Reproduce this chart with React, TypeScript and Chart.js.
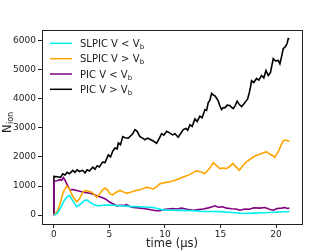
import React, { useEffect, useRef } from "react";
import { Chart, registerables } from "chart.js";

Chart.register(...registerables);

// ---- Data (time in µs, N_ion) ----
const slpicBelowT = [0, 0.3, 0.6, 0.9, 1.15, 1.4, 1.7, 2.05, 2.4, 2.8, 3.05, 3.25, 3.6, 4.0, 4.4, 4.75, 5.3, 5.95, 6.8, 7.75, 8.5, 8.95, 9.4, 9.8, 10.5, 11.5, 12.55, 13.3, 14.05, 15.0, 16.0, 17.05, 18.0, 18.8, 19.45, 20.3, 21.2];
const slpicBelowN = [0, 60, 250, 480, 620, 670, 500, 290, 380, 520, 500, 440, 360, 320, 340, 350, 340, 320, 300, 290, 270, 260, 220, 180, 170, 165, 150, 130, 125, 120, 90, 55, 70, 80, 90, 110, 125];

const slpicAboveT = [0, 0.3, 0.6, 0.85, 1.15, 1.4, 1.7, 2.05, 2.3, 2.6, 2.8, 3.1, 3.4, 3.65, 3.85, 4.1, 4.4, 4.6, 4.85, 5.05, 5.3, 5.6, 5.95, 6.25, 6.55, 6.9, 7.3, 7.75, 8.05, 8.35, 8.65, 8.95, 9.25, 9.55, 9.9, 10.3, 10.75, 11.2, 11.65, 11.95, 12.25, 12.55, 12.85, 13.25, 13.6, 14.0, 14.35, 14.65, 14.95, 15.25, 15.55, 15.85, 16.1, 16.4, 16.7, 17.0, 17.35, 17.7, 18.1, 18.6, 19.15, 19.45, 19.7, 19.9, 20.2, 20.45, 20.65, 20.9, 21.2];
const slpicAboveN = [0, 120, 450, 800, 1000, 900, 640, 460, 560, 780, 850, 820, 790, 700, 610, 720, 880, 930, 850, 730, 700, 780, 850, 800, 750, 790, 840, 870, 920, 960, 930, 900, 980, 1080, 1110, 1140, 1170, 1240, 1310, 1350, 1400, 1470, 1520, 1480, 1430, 1600, 1800, 1700, 1600, 1620, 1600, 1680, 1780, 1660, 1540, 1700, 1830, 1930, 2030, 2100, 2180, 2090, 2050, 1990, 2180, 2400, 2560, 2580, 2530];

const picBelowT = [0, 0, 0.25, 0.55, 0.7, 0.85, 1.0, 1.15, 1.3, 1.45, 1.75, 2.05, 2.35, 2.65, 2.95, 3.25, 3.55, 3.85, 4.2, 4.6, 4.85, 5.05, 5.35, 5.65, 6.0, 6.3, 6.55, 6.85, 7.15, 7.6, 8.05, 8.5, 8.95, 9.25, 9.55, 9.9, 10.3, 10.7, 11.05, 11.5, 12.0, 12.55, 13.0, 13.45, 13.9, 14.2, 14.5, 14.8, 15.2, 15.55, 16.0, 16.4, 16.75, 17.2, 17.6, 18.0, 18.55, 19.0, 19.4, 19.75, 20.1, 20.5, 20.8, 21.0, 21.2];
const picBelowN = [0, 1170, 1180, 1220, 1200, 1290, 1200, 1080, 960, 870, 880, 850, 820, 790, 770, 750, 720, 670, 620, 560, 500, 440, 380, 320, 340, 330, 360, 300, 260, 250, 230, 200, 170, 150, 150, 190, 210, 230, 210, 240, 200, 170, 190, 210, 250, 280, 320, 270, 290, 240, 220, 210, 170, 210, 200, 250, 240, 260, 200, 170, 230, 240, 260, 230, 240];

const picAboveT = [0, 0, 0.3, 0.6, 0.8, 1.0, 1.2, 1.4, 1.7, 1.9, 2.1, 2.3, 2.6, 2.8, 3.0, 3.2, 3.5, 3.7, 3.9, 4.1, 4.4, 4.6, 4.9, 5.1, 5.3, 5.5, 5.7, 5.8, 6.0, 6.2, 6.4, 6.7, 6.9, 7.1, 7.3, 7.5, 7.75, 8.0, 8.2, 8.45, 8.65, 8.9, 9.25, 9.5, 9.7, 9.9, 10.15, 10.45, 10.7, 10.9, 11.2, 11.4, 11.65, 11.9, 12.05, 12.25, 12.45, 12.7, 12.9, 13.15, 13.35, 13.6, 13.75, 13.9, 14.05, 14.2, 14.35, 14.5, 14.65, 14.8, 14.95, 15.1, 15.25, 15.4, 15.6, 15.85, 16.0, 16.15, 16.3, 16.5, 16.7, 16.9, 17.1, 17.3, 17.45, 17.6, 17.7, 17.8, 18.0, 18.25, 18.45, 18.7, 18.9, 19.1, 19.3, 19.5, 19.75, 19.95, 20.2, 20.35, 20.5, 20.65, 20.85, 21.0, 21.1, 21.2];
const picAboveN = [0, 1330, 1320, 1300, 1420, 1380, 1470, 1420, 1540, 1470, 1560, 1500, 1540, 1450, 1560, 1520, 1650, 1580, 1700, 1660, 1830, 1800, 2070, 2000, 2200, 2310, 2280, 2480, 2420, 2700, 2660, 2650, 2720, 2800, 2940, 2880, 2700, 2650, 2590, 2650, 2610, 2560, 2470, 2650, 2800, 2750, 2880, 2820, 2760, 2800, 2680, 2800, 2940, 2980, 2920, 3110, 3050, 3310, 3220, 3400, 3350, 3630, 3600, 3870, 3950, 4190, 4130, 4100, 4020, 3920, 3750, 3630, 3700, 3690, 3780, 3770, 3700, 3660, 3750, 3920, 3800, 3730, 3820, 3920, 4000, 4220, 4400, 4620, 4560, 4700, 4640, 4800, 4720, 4970, 4800, 4900, 5380, 5300, 5320, 5200, 5450, 5720, 5800, 5900, 6070, 6050];

const xTicks = [0, 5, 10, 15, 20];
const yTicks = [0, 1000, 2000, 3000, 4000, 5000, 6000];

const seriesLabels = ["SLPIC V < V", "SLPIC V > V", "PIC V < V", "PIC V > V"];
const seriesColors = ["#00f0f0", "#ffa500", "#800080", "#000000"];

const zip = (t: number[], n: number[]) => t.map((x, i) => ({ x, y: n[i] }));

const FONT = "'DejaVu Sans', sans-serif";

export default function App() {
  const ref = useRef<HTMLCanvasElement | null>(null);

  useEffect(() => {
    const canvas = ref.current;
    if (!canvas) return;

    const overlay = {
      id: "overlay",
      afterDraw(chart: any) {
        const ctx = chart.ctx as CanvasRenderingContext2D;
        const a = chart.chartArea;
        ctx.save();
        // frame
        ctx.strokeStyle = "#222";
        ctx.lineWidth = 1;
        ctx.strokeRect(Math.round(a.left) + 0.5, Math.round(a.top) + 0.5, Math.round(a.right - a.left), Math.round(a.bottom - a.top));

        // legend
        const rowY = [43.3, 58.7, 74, 89.3];
        seriesLabels.forEach((lab, i) => {
          const y = rowY[i];
          ctx.strokeStyle = seriesColors[i];
          ctx.lineWidth = 1.5;
          ctx.beginPath();
          ctx.moveTo(50, y);
          ctx.lineTo(72, y);
          ctx.stroke();
          ctx.fillStyle = "#222";
          ctx.font = `10px ${FONT}`;
          ctx.textBaseline = "alphabetic";
          ctx.textAlign = "left";
          ctx.fillText(lab, 80, y + 3.6);
          const w = ctx.measureText(lab).width;
          ctx.font = `7px ${FONT}`;
          ctx.fillText("b", 80 + w + 0.3, y + 5.6);
        });

        // x label
        ctx.fillStyle = "#222";
        ctx.font = `11.5px ${FONT}`;
        ctx.textAlign = "center";
        ctx.textBaseline = "alphabetic";
        ctx.fillText("time (μs)", (a.left + a.right) / 2, 246.5);

        // y label
        ctx.save();
        ctx.translate(10.8, 133);
        ctx.rotate(-Math.PI / 2);
        ctx.textAlign = "left";
        ctx.font = `11.5px ${FONT}`;
        ctx.fillText("N", 0, 0);
        const wn = ctx.measureText("N").width;
        ctx.font = `8px ${FONT}`;
        ctx.fillText("ion", wn + 0.3, 2.3);
        ctx.restore();
        ctx.restore();
      },
    };

    const chart = new Chart(canvas, {
      type: "line",
      data: {
        datasets: [
          { label: seriesLabels[0], data: zip(slpicBelowT, slpicBelowN), borderColor: seriesColors[0] },
          { label: seriesLabels[1], data: zip(slpicAboveT, slpicAboveN), borderColor: seriesColors[1] },
          { label: seriesLabels[2], data: zip(picBelowT, picBelowN), borderColor: seriesColors[2] },
          { label: seriesLabels[3], data: zip(picAboveT, picAboveN), borderColor: seriesColors[3] },
        ].map((d) => ({ ...d, borderWidth: 1.6, pointRadius: 0, tension: 0, fill: false, backgroundColor: d.borderColor })),
      },
      options: {
        animation: false,
        responsive: false,
        maintainAspectRatio: false,
        layout: { padding: { left: 0, top: 30, right: 33, bottom: 0 } },
        plugins: { legend: { display: false }, tooltip: { enabled: false } },
        scales: {
          x: {
            type: "linear",
            min: -1.07,
            max: 22.34,
            afterBuildTicks: (s: any) => { s.ticks = xTicks.map((v) => ({ value: v })); },
            afterFit: (s: any) => { s.height = 28; },
            grid: { display: true, drawOnChartArea: false, drawTicks: true, tickLength: 4, color: "#222", lineWidth: 1 },
            border: { display: false },
            ticks: { color: "#222", font: { family: FONT, size: 9 }, padding: 1, maxRotation: 0, autoSkip: false, callback: (v: any) => String(v) },
          },
          y: {
            type: "linear",
            min: -305,
            max: 6365,
            afterBuildTicks: (s: any) => { s.ticks = yTicks.map((v) => ({ value: v })); },
            afterFit: (s: any) => { s.width = 42; },
            grid: { display: true, drawOnChartArea: false, drawTicks: true, tickLength: 4, color: "#222", lineWidth: 1 },
            border: { display: false },
            ticks: { color: "#222", font: { family: FONT, size: 9 }, padding: 2, autoSkip: false, callback: (v: any) => String(v) },
          },
        },
      },
      plugins: [overlay],
    } as any);

    return () => chart.destroy();
  }, []);

  return (
    <div style={{ position: "fixed", left: 0, top: 0, width: 335, height: 252, background: "#fff" }}>
      <canvas ref={ref} width={335} height={252} style={{ width: 335, height: 252, display: "block" }} />
    </div>
  );
}
